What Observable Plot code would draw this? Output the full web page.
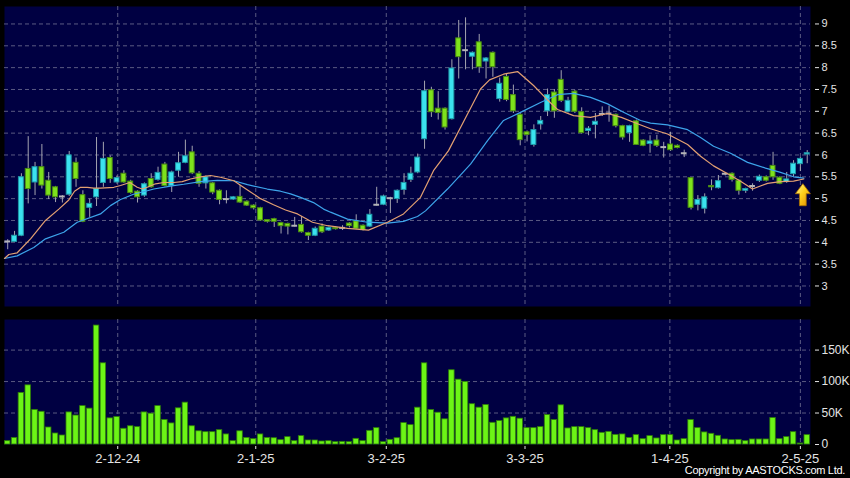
<!DOCTYPE html>
<html><head><meta charset="utf-8">
<script src="https://cdn.jsdelivr.net/npm/d3@7"></script>
<script src="https://cdn.jsdelivr.net/npm/@observablehq/plot@0.6"></script>
<style>
html,body{margin:0;padding:0;background:#000;}
#chart{position:relative;width:850px;height:478px;overflow:hidden;background:#000;}
#chart svg{display:block;}
#copy{position:absolute;right:5px;top:464px;font:11px 'Liberation Sans',Arial,sans-serif;letter-spacing:-0.3px;color:#fff;white-space:nowrap;line-height:13px;}
</style></head><body><div id="chart"></div>
<script>
// ---- data ----
const opens = [4.02,4.01,4.15,5.68,5.37,5.72,5.41,5.26,5.05,5.09, 5.82,5.08,4.79,5.03,5.36,5.93,5.37,5.57,5.39,5.16, 5.07,5.45,5.43,5.78,5.29,5.64,5.82,6.06,5.57,5.35, 5.35,5.18,4.99,4.98,5.04,4.93,4.84,4.78,4.51,4.53, 4.44,4.42,4.38,4.40,4.21,4.15,4.36,4.27,4.33,4.33, 4.43,4.48,4.38,4.36,4.86,4.86,5.01,4.99,5.20,5.43, 5.60,6.36,7.48,7.06,7.06,6.82,8.67,8.40,8.25,8.58, 8.14,8.34,7.28,7.79,7.37,6.92,6.52,6.23,6.70,7.00, 7.43,7.72,6.99,7.45,6.98,6.55,6.69,6.94,6.95,6.92, 6.66,6.50,6.77,6.33,6.25,6.33,6.18,6.24,6.21,6.04, 5.47,4.86,4.77,5.29,5.24,5.57,5.57,5.41,5.18,5.29, 5.41,5.49,5.75,5.48,5.38,5.56,5.79,6.01];
const highs = [4.06,4.25,5.57,6.42,5.83,6.24,5.60,5.28,5.07,6.08, 5.93,5.18,4.99,6.40,6.29,5.98,5.52,5.64,5.42,5.18, 5.36,5.57,5.72,5.83,5.63,6.06,6.34,6.20,5.62,5.52, 5.37,5.20,5.18,5.05,5.30,4.95,4.86,4.80,4.52,4.55, 4.46,4.44,4.57,4.59,4.23,4.35,4.42,4.35,4.36,4.38, 4.45,4.63,4.40,4.75,5.26,5.08,5.03,5.20,5.57,5.72, 6.02,7.69,7.55,7.45,7.08,8.18,9.08,9.14,8.36,8.76, 8.23,8.36,7.76,7.85,7.60,6.95,6.55,6.69,6.88,7.51, 7.50,7.93,7.32,7.48,7.08,6.65,6.95,7.10,7.12,6.94, 6.68,6.68,6.80,6.35,6.44,6.45,6.29,6.52,6.23,6.11, 5.48,5.07,5.11,5.43,5.53,5.60,5.59,5.43,5.24,5.34, 5.54,5.52,6.06,5.50,5.60,5.87,5.94,6.10];
const lows = [3.83,4.00,4.13,4.88,5.07,5.22,4.98,4.91,4.90,5.05, 5.26,4.45,4.57,4.82,5.26,5.35,5.33,5.35,5.10,4.90, 5.03,5.24,5.40,5.27,5.14,5.49,5.80,5.55,5.26,5.22, 5.09,4.86,4.88,4.96,4.89,4.82,4.74,4.48,4.44,4.34, 4.19,4.17,4.35,4.21,4.04,4.13,4.20,4.25,4.28,4.27, 4.33,4.29,4.26,4.34,4.83,4.84,4.66,4.89,5.08,5.37, 5.57,6.13,6.86,6.80,6.57,6.80,7.74,7.95,7.95,7.87, 7.74,7.78,7.21,7.22,6.95,6.21,6.30,6.18,6.57,6.88, 6.84,7.20,6.96,6.95,6.48,6.44,6.37,6.88,6.75,6.62, 6.34,6.29,6.22,6.19,6.04,6.17,5.93,6.08,6.14,5.94, 4.74,4.72,4.65,5.18,5.22,5.52,5.38,5.08,5.12,5.17, 5.37,5.38,5.42,5.32,5.35,5.49,5.62,5.80];
const closes = [4.02,4.15,5.49,5.22,5.72,5.30,5.07,5.03,5.05,5.99, 5.45,4.47,4.88,5.22,5.91,5.45,5.47,5.37,5.13,5.03, 5.33,5.26,5.59,5.29,5.60,5.81,5.97,5.58,5.34,5.49, 5.14,4.97,4.99,5.03,4.91,4.84,4.78,4.50,4.47,4.47, 4.37,4.36,4.38,4.23,4.15,4.31,4.23,4.33,4.30,4.33, 4.37,4.31,4.28,4.63,4.86,5.05,5.01,5.18,5.36,5.57, 5.94,7.46,6.98,6.96,6.63,7.98,8.24,8.40,8.34,8.01, 8.21,8.01,7.63,7.26,7.00,6.34,6.46,6.57,6.78,7.37, 7.00,7.24,7.24,6.99,6.50,6.60,6.76,6.94,6.95,6.66, 6.40,6.66,6.23,6.21,6.31,6.21,6.18,6.11,6.16,6.04, 4.79,4.97,5.03,5.26,5.40,5.57,5.43,5.18,5.22,5.29, 5.50,5.41,5.49,5.34,5.44,5.80,5.91,6.04];
// volume in thousands
const volumes = [5.3,10.5,82,94,55,52,27,17.5,14.3,51, 46,61,57,189,129,41.5,43.6,25,29,27.6, 51,49,61,39,33.5,57.5,66.5,29,21,19.6, 19.6,22.8,16,5.3,21,10.5,8.5,16,10.5,10, 6.9,11.7,5.3,13.3,6.4,6.4,4.8,5.3,3.7,4.2, 3.7,9,5.3,21.7,26,3.7,7.4,10,34,30.8, 58.5,129,54.8,50.5,40,118,103,99.5,64,58.5, 62.8,34.5,37.2,41.5,44,41,26,26,27.6,46.8, 38.8,62.3,25.5,27.6,27.6,26,22.8,18.5,20.1,15.3, 16,10.5,14.9,8.5,13.3,9.6,14.9,14.9,6.4,8.5, 38.8,26,19.2,17,13.8,8,6.9,7.4,5.3,8, 8,8,42,8.5,11.7,19.6,1.6,14.9];
// moving averages: [bar index, value]
const maShortPts = [[-0.47,3.63],[0.16,3.72],[1.39,3.76],[3.34,4.08],[5.53,4.50],[7.48,4.76],[8.94,4.97],[9.78,5.17],[10.65,5.26],[11.63,5.26],[12.6,5.24],[13.58,5.24],[15.53,5.26],[16.51,5.30],[17.87,5.37],[18.95,5.26],[19.68,5.22],[20.42,5.26],[21.63,5.34],[22.85,5.37],[24.31,5.37],[25.54,5.39],[26.75,5.45],[28.22,5.50],[29.68,5.53],[31.14,5.49],[33.09,5.41],[35.09,5.20],[36.99,5.00],[38.9,4.86],[40.66,4.74],[42.41,4.65],[44.61,4.46],[46.8,4.38],[49.73,4.32],[52.8,4.28],[55.58,4.46],[57.92,4.65],[60.41,5.03],[62.31,5.64],[64.51,6.10],[67.29,6.94],[69.19,7.51],[70.51,7.72],[72.56,7.85],[74.61,7.91],[76.95,7.59],[79.0,7.26],[80.46,7.04],[82.81,6.90],[85.29,6.86],[87.78,6.95],[89.8,6.86],[91.6,6.75],[94.07,6.60],[96.56,6.48],[99.49,6.24],[101.39,5.97],[103.29,5.75],[105.49,5.56],[107.24,5.40],[109.0,5.22],[111.2,5.35],[113.1,5.39],[115.0,5.40],[116.5,5.45]];
const maLongPts = [[-0.47,3.63],[1.39,3.69],[3.82,3.88],[5.53,4.08],[8.21,4.23],[10.17,4.46],[13.58,4.65],[15.04,4.84],[16.51,4.98],[18.41,5.10],[20.17,5.17],[21.38,5.22],[24.26,5.30],[25.77,5.33],[28.22,5.39],[30.66,5.42],[33.09,5.41],[35.09,5.32],[37.98,5.22],[39.92,5.17],[41.39,5.11],[42.85,5.03],[44.75,4.91],[46.22,4.76],[47.24,4.69],[49.73,4.53],[52.66,4.46],[55.58,4.44],[57.92,4.48],[59.97,4.59],[61.14,4.72],[64.36,5.22],[67.73,5.79],[70.22,6.33],[72.56,6.79],[75.49,7.01],[77.97,7.20],[80.46,7.38],[82.81,7.41],[85.29,7.32],[87.78,7.17],[90.12,6.98],[92.61,6.79],[94.07,6.73],[96.56,6.69],[99.49,6.58],[101.39,6.40],[103.29,6.20],[105.78,6.04],[108.27,5.83],[110.9,5.70],[113.1,5.60],[115.0,5.50],[116.5,5.47]];
const dateTicks = [16.1, 36.3, 55.4, 75.7, 96.9, 116];
const dateLabels = ["2-12-24","2-1-25","3-2-25","3-3-25","1-4-25","2-5-25"];
const priceTicks = [3,3.5,4,4.5,5,5.5,6,6.5,7,7.5,8,8.5,9];
const volumeTicks = [0,50,100,150];
const arrowAt = [{i: 116.36, p: 5.09}];
const copyright = "Copyright by AASTOCKS.com Ltd.";

// ---- derived tables ----
const candles = opens.map((o, i) => ({i, o, h: highs[i], l: lows[i], c: closes[i]}));
const bodies = candles.filter(d => d.o !== d.c);
const dojis = candles.filter(d => d.o === d.c);
const vols = volumes.map((v, i) => ({i, v}));
const maShort = maShortPts.map(([i, v]) => ({i, v}));
const maLong = maLongPts.map(([i, v]) => ({i, v}));
const labelOf = new Map(dateTicks.map((t, k) => [t, dateLabels[k]]));

// ---- styles ----
const NAVY = "#000042", GRID = "#5a5a82", WICK = "#a4a4b0", DOJI = "#b4b4b8";
const CYAN = "#3be2ef", CYAN_EDGE = "#1f9aa8", GREEN = "#7ee21c", GREEN_EDGE = "#4a8c12";
const ORANGE = "#e3a072", BLUE = "#3da4ea", VOL = "#6cf416", VOL_EDGE = "#2e7e08";
const dash = "4,3";

const arrowSymbol = {
  draw(ctx) {
    ctx.moveTo(0, -11); ctx.lineTo(7.5, -1); ctx.lineTo(3.4, -1); ctx.lineTo(3.4, 11);
    ctx.lineTo(-3.4, 11); ctx.lineTo(-3.4, -1); ctx.lineTo(-7.5, -1); ctx.closePath();
  }
};

const common = {
  width: 850, marginLeft: 4, marginRight: 40,
  x: {domain: [-0.47, 117.48], axis: null, label: null},
  color: {type: "identity"},
  style: {background: "#000", color: "#e4e4e4", fontFamily: "'Liberation Sans', Arial, sans-serif", fontSize: "12px", overflow: "visible"}
};

const price = Plot.plot({
  ...common, height: 310, marginTop: 6, marginBottom: 4,
  y: {domain: [2.53, 9.40], axis: null, label: null},
  marks: [
    Plot.frame({fill: NAVY}),
    Plot.ruleY(priceTicks, {y: d => d, stroke: GRID, strokeDasharray: dash}),
    Plot.ruleX(dateTicks, {x: d => d, stroke: GRID, strokeDasharray: dash}),
    Plot.axisY(priceTicks, {anchor: "right", label: null, tickSize: 4, tickPadding: 3, dx: 4, fontSize: 11, tickFormat: d => String(d)}),
    Plot.ruleX(candles, {x: "i", y1: "l", y2: "h", stroke: WICK, strokeWidth: 1}),
    Plot.rect(bodies, {x1: d => d.i - 0.36, x2: d => d.i + 0.36, y1: "o", y2: "c",
      fill: d => d.c > d.o ? CYAN : GREEN, stroke: d => d.c > d.o ? CYAN_EDGE : GREEN_EDGE, strokeWidth: 1}),
    Plot.ruleY(dojis, {y: "c", x1: d => d.i - 0.42, x2: d => d.i + 0.42, stroke: DOJI, strokeWidth: 2}),
    Plot.line(maLong, {x: "i", y: "v", stroke: BLUE, strokeWidth: 1.2}),
    Plot.line(maShort, {x: "i", y: "v", stroke: ORANGE, strokeWidth: 1.2}),
    Plot.dot(arrowAt, {x: "i", y: "p", symbol: arrowSymbol, r: 8, fill: "url(#goldGrad)", stroke: "#a86e00", strokeWidth: 0.8})
  ]
});
price.insertAdjacentHTML("afterbegin",
  '<defs><linearGradient id="goldGrad" x1="0" y1="0" x2="1" y2="1">' +
  '<stop offset="0" stop-color="#fff59a"/><stop offset="0.45" stop-color="#ffd21e"/><stop offset="1" stop-color="#e08a00"/>' +
  '</linearGradient></defs>');

const volume = Plot.plot({
  ...common, height: 168, marginTop: 9, marginBottom: 34,
  y: {domain: [0, 198.6], axis: null, label: null},
  marks: [
    Plot.frame({fill: NAVY}),
    Plot.ruleY(volumeTicks.filter(d => d > 0), {y: d => d, stroke: GRID, strokeDasharray: dash}),
    Plot.ruleX(dateTicks, {x: d => d, stroke: GRID, strokeDasharray: dash}),
    Plot.rectY(vols, {x1: d => d.i - 0.4, x2: d => d.i + 0.4, y: "v", fill: VOL, stroke: VOL_EDGE, strokeWidth: 0.8}),
    Plot.axisY(volumeTicks, {anchor: "right", label: null, tickSize: 4, tickPadding: 3, dx: 4, fontSize: 12, tickFormat: d => d === 0 ? "0" : d + "K"}),
    Plot.axisX(dateTicks, {anchor: "bottom", label: null, tickSize: 3, tickPadding: 4, dy: 2, fontSize: 13, tickFormat: d => labelOf.get(d)})
  ]
});

const root = document.getElementById("chart");
root.appendChild(price);
root.appendChild(volume);
const copyEl = document.createElement("div");
copyEl.id = "copy";
copyEl.textContent = copyright;
root.appendChild(copyEl);
</script>
</body></html>
